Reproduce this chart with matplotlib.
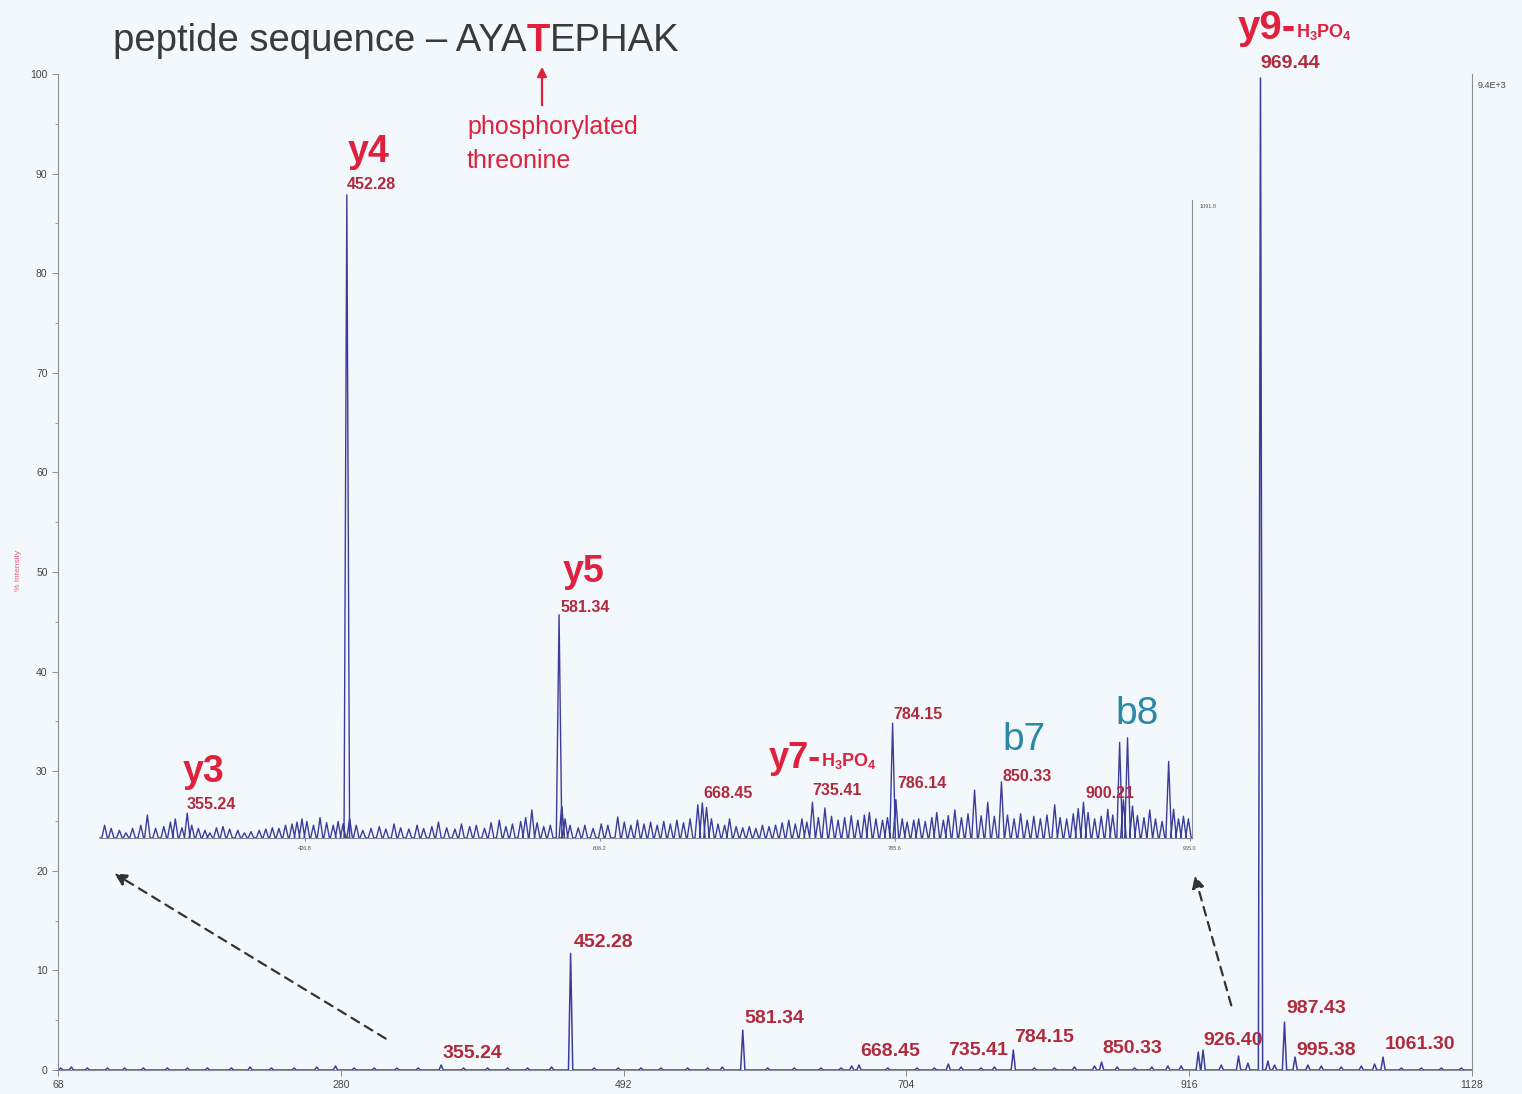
import numpy as np
import matplotlib.pyplot as plt
from matplotlib.ticker import MultipleLocator

plt.rcParams['font.family'] = ['Liberation Sans', 'DejaVu Sans']
plt.rcParams['mathtext.fontset'] = 'custom'
plt.rcParams['mathtext.rm'] = 'Liberation Sans:bold'
plt.rcParams['mathtext.bf'] = 'Liberation Sans:bold'

W, H = 1522, 1094

# full spectrum, % intensity
main_mz = [355.24, 452.28, 566.0, 581.34, 668.45, 735.41, 784.15, 850.33,
           922.8, 926.40, 953.0, 969.44, 987.43, 995.38, 1061.30]
main_int = [0.5, 11.7, 0.3, 4.0, 0.5, 0.6, 2.0, 0.8,
            1.8, 2.0, 1.4, 99.6, 4.8, 1.3, 1.3]
main_noise_mz = [70, 78, 90, 105, 118, 132, 150, 165, 180, 198, 212, 228, 245, 262,
                 276, 290, 305, 322, 338, 372, 390, 405, 420, 438, 470, 488, 505,
                 520, 540, 555, 600, 620, 640, 655, 663, 690, 712, 725, 745, 760,
                 770, 800, 815, 830, 845, 862, 875, 888, 900, 910, 940, 960, 975,
                 980, 1005, 1015, 1030, 1045, 1055, 1075, 1090, 1105, 1120]
main_noise_int = [0.2, 0.3, 0.2, 0.2, 0.2, 0.2, 0.2, 0.2, 0.2, 0.2, 0.3, 0.2, 0.2, 0.3,
                  0.4, 0.2, 0.2, 0.2, 0.2, 0.2, 0.2, 0.2, 0.2, 0.3, 0.2, 0.2, 0.2,
                  0.2, 0.2, 0.2, 0.2, 0.2, 0.2, 0.2, 0.4, 0.2, 0.2, 0.2, 0.3, 0.2,
                  0.3, 0.2, 0.2, 0.3, 0.4, 0.3, 0.2, 0.3, 0.4, 0.4, 0.5, 0.7, 0.9,
                  0.5, 0.5, 0.4, 0.3, 0.4, 0.6, 0.2, 0.2, 0.2, 0.2]

# zoomed region (inset), relative intensity
inset_mz = [305, 309, 314, 318, 322, 327, 331, 336, 341, 345, 348, 352, 355.24, 358,
            362, 366, 369, 373, 377, 381, 386, 390, 394, 399, 403, 407, 411, 415,
            419, 422, 425, 428, 432, 436, 440, 444, 447, 450, 452.28, 454, 458, 462,
            467, 472, 476, 481, 485, 490, 495, 499, 504, 508, 513, 518, 522, 527,
            531, 536, 540, 545, 549, 553, 558, 561, 564.8, 568, 572, 576, 581.34,
            583, 585, 588, 593, 597, 602, 607, 611, 617, 621, 625, 629, 633, 637,
            641, 645, 649, 653, 657, 661, 665.7, 668.45, 671, 674, 678, 682, 685,
            689, 693, 697, 701, 705, 709, 713, 717, 721, 725, 729, 732, 735.41,
            739, 743, 747, 751, 755, 759, 763, 767, 770, 774, 778, 781, 784.15,
            786.14, 790, 793, 797, 800, 804, 808, 811, 815, 818, 822, 826, 830,
            834, 838, 842, 846, 850.33, 854, 858, 862, 866, 870, 874, 878, 882.7,
            886, 890, 894, 897, 900.21, 903, 907, 911, 915, 918, 922.2, 924.5, 927,
            930, 933, 937, 940.5, 944, 948, 952, 955, 958, 961, 964]
inset_int = [2.0, 1.5, 1.2, 0.8, 1.5, 2.0, 3.6, 1.5, 1.8, 2.5, 3.0, 1.6, 3.9, 2.0,
             1.5, 1.2, 0.8, 1.6, 1.8, 1.4, 1.2, 0.8, 1.0, 1.2, 1.4, 1.6, 1.5, 2.0,
             2.2, 2.5, 3.0, 2.6, 2.0, 3.2, 2.4, 2.0, 2.6, 2.2, 100.8, 3.0, 2.0, 1.2,
             1.5, 1.8, 1.4, 2.2, 1.6, 1.4, 2.0, 1.5, 1.8, 2.5, 1.6, 1.4, 2.2, 1.8,
             2.0, 1.5, 2.4, 2.8, 1.8, 2.2, 2.6, 3.2, 4.4, 2.4, 1.8, 2.0, 35.0,
             5.0, 3.0, 2.0, 1.6, 2.0, 1.5, 2.2, 2.0, 3.3, 2.5, 2.0, 2.8, 2.2, 2.5,
             2.0, 2.6, 2.2, 2.8, 2.4, 3.0, 5.2, 5.5, 4.8, 3.0, 2.2, 2.0, 3.0,
             1.8, 1.6, 1.8, 1.5, 2.0, 1.8, 2.0, 2.4, 2.8, 2.2, 3.0, 2.5, 5.6,
             3.2, 4.7, 3.4, 2.8, 3.2, 3.5, 2.8, 3.6, 4.0, 3.0, 2.8, 3.2, 18.0,
             6.0, 3.0, 2.5, 2.8, 3.0, 2.6, 3.2, 4.0, 2.8, 3.5, 4.4, 3.2, 3.8,
             7.5, 3.5, 5.6, 3.4, 8.8, 3.6, 3.0, 3.8, 2.8, 3.4, 3.0, 3.6, 5.2,
             3.2, 3.0, 3.8, 4.6, 5.6, 4.0, 3.0, 3.4, 4.5, 3.6, 15.0, 6.0, 15.7,
             5.0, 3.5, 3.2, 4.4, 3.0, 2.6, 12.0, 4.5, 3.0, 3.4, 3.0]

main_ticks = [68, 280, 492, 704, 916, 1128]
inset_ticks = [426.8, 606.2, 785.6, 965.0]
inset_tick_labels = ['426.8', '606.2', '785.6', '965.0']

BG = '#f3f8fc'
SPEC = '#3b3d9c'
DARKRED = '#b12a3c'
RED = '#e0213d'
TEAL = '#2b88a6'
GREY = '#8a8f96'


def profile(mz, inten, w, lo, hi):
    order = np.argsort(mz)
    xs, ys = [lo], [0]
    for i in order:
        xs += [mz[i] - w, mz[i], mz[i] + w]
        ys += [0, inten[i], 0]
    xs.append(hi)
    ys.append(0)
    return xs, ys


fig = plt.figure(figsize=(W / 100, H / 100), dpi=100, facecolor=BG)

# main axes
ax = fig.add_axes([58 / W, 1 - 1070 / H, (1472 - 58) / W, (1070 - 74) / H])
ax.set_facecolor('none')
x, y = profile(main_mz + main_noise_mz, main_int + main_noise_int, 1.6, 68, 1128)
ax.plot(x, y, color=SPEC, lw=1.1)
ax.set_xlim(68, 1128)
ax.set_ylim(0, 100)
ax.set_xticks(main_ticks)
ax.set_yticks(range(0, 101, 10))
ax.yaxis.set_minor_locator(MultipleLocator(5))
ax.tick_params(labelsize=7.5, colors='#444444', length=4, width=0.7)
ax.tick_params(which='minor', length=2.5, width=0.6, colors=GREY)
ax.tick_params(axis='both', which='major', color=GREY)
for s in ['left', 'bottom', 'right']:
    ax.spines[s].set_color(GREY)
    ax.spines[s].set_linewidth(0.8)
ax.spines['top'].set_visible(False)

main_labels = [('355.24', 379, 1.7), ('452.28', 477, 12.85), ('581.34', 605, 5.2),
               ('668.45', 692, 1.9), ('735.41', 758, 2.0), ('784.15', 807, 3.3),
               ('850.33', 873, 2.2), ('926.40', 949, 3.0), ('987.43', 1011, 6.2),
               ('995.38', 1019, 2.0), ('1061.30', 1089, 2.6), ('969.44', 992, 101.1)]
for txt, lx, ly in main_labels:
    ax.text(lx, ly, txt, color=DARKRED, fontsize=14, fontweight='bold',
            ha='center', va='center', clip_on=False)

# inset (zoomed 300-966)
ins = fig.add_axes([100 / W, 1 - 838 / H, (1192 - 100) / W, (838 - 200) / H])
ins.set_facecolor('none')
x, y = profile(inset_mz, inset_int, 1.7, 302.2, 966.2)
ins.plot(x, y, color=SPEC, lw=1.0, clip_on=False)
ins.set_xlim(302.2, 966.2)
ins.set_ylim(0, 100)
ins.set_xticks(inset_ticks)
ins.set_xticklabels(inset_tick_labels)
ins.set_yticks([])
ins.tick_params(labelsize=4, colors='#555555', length=2, width=0.5)
for s in ['left', 'top']:
    ins.spines[s].set_visible(False)
for s in ['bottom', 'right']:
    ins.spines[s].set_color(GREY)
    ins.spines[s].set_linewidth(0.8)
ins.text(1.007, 0.99, '1091.8', transform=ins.transAxes, fontsize=4, color='#555555',
         ha='left', va='center')

inset_small = [('355.24', 369.6, 5.2), ('452.28', 467, 102.4), ('581.34', 597, 36.2),
               ('668.45', 684, 7.05), ('735.41', 750.3, 7.5), ('784.15', 799.6, 19.3),
               ('786.14', 802, 8.6), ('850.33', 865.9, 9.7), ('900.21', 916.3, 7.05)]
for txt, lx, ly in inset_small:
    ins.text(lx, ly, txt, color=DARKRED, fontsize=11.5, fontweight='bold',
             ha='center', va='center', clip_on=False)

for txt, lx, ly in [('y3', 365.4, 10.3), ('y4', 465.7, 107.5), ('y5', 596.5, 41.7)]:
    ins.text(lx, ly, txt, color=RED, fontsize=27, fontweight='bold',
             ha='center', va='center', clip_on=False)
for txt, lx, ly in [('b7', 864, 15.4), ('b8', 932.8, 19.4)]:
    ins.text(lx, ly, txt, color=TEAL, fontsize=28, ha='center', va='center', clip_on=False)

y7 = ins.text(709, 12.5, 'y7-', color=RED, fontsize=26, fontweight='bold',
              ha='left', va='center', clip_on=False)
ins.annotate(r'H$_3$PO$_4$', xy=(1, 0), xycoords=y7, xytext=(0, 3.5),
             textcoords='offset points', color=RED, fontsize=13, fontweight='bold',
             ha='left', va='bottom')

y9 = fig.text(1238 / W, 1 - 28 / H, 'y9-', color=RED, fontsize=29, fontweight='bold',
              ha='left', va='center')
ax.annotate(r'H$_3$PO$_4$', xy=(1, 0), xycoords=y9, xytext=(0, 3.5),
            textcoords='offset points', color=RED, fontsize=13, fontweight='bold',
            ha='left', va='bottom')

# title
t1 = fig.text(113 / W, 1 - 41 / H, 'peptide sequence \u2013 AYA', color='#3a3a3a',
              fontsize=27.5, ha='left', va='center')
t2 = ax.annotate('T', xy=(1, 0), xycoords=t1, color=RED, fontsize=27.5,
                 fontweight='bold', ha='left', va='bottom')
ax.annotate('EPHAK', xy=(1, 0), xycoords=t2, color='#3a3a3a', fontsize=27.5,
            ha='left', va='bottom')

ax.annotate('', xy=(542 / W, 1 - 64 / H), xycoords='figure fraction',
            xytext=(542 / W, 1 - 108 / H), textcoords='figure fraction',
            arrowprops=dict(arrowstyle='-|>', color=RED, lw=1.6, mutation_scale=14))
fig.text(467 / W, 1 - 127 / H, 'phosphorylated', color=RED, fontsize=18,
         ha='left', va='center')
fig.text(467 / W, 1 - 161 / H, 'threonine', color=RED, fontsize=18,
         ha='left', va='center')

# dashed zoom arrows
for (x0, y0), (x1, y1) in [((388, 1040), (112, 872)), ((1232, 1008), (1194, 873))]:
    ax.annotate('', xy=(x1 / W, 1 - y1 / H), xycoords='figure fraction',
                xytext=(x0 / W, 1 - y0 / H), textcoords='figure fraction',
                arrowprops=dict(arrowstyle='-|>', color='#333333', lw=1.6,
                                linestyle=(0, (4, 3)), mutation_scale=18))

fig.text(18 / W, 1 - 570 / H, '% Intensity', color='#ee5c80', fontsize=6,
         rotation=90, ha='center', va='center')
fig.text(1478 / W, 1 - 85 / H, '9.4E+3', color='#444444', fontsize=6.5,
         ha='left', va='center')

fig.savefig('out.png', dpi=100, facecolor=BG)
